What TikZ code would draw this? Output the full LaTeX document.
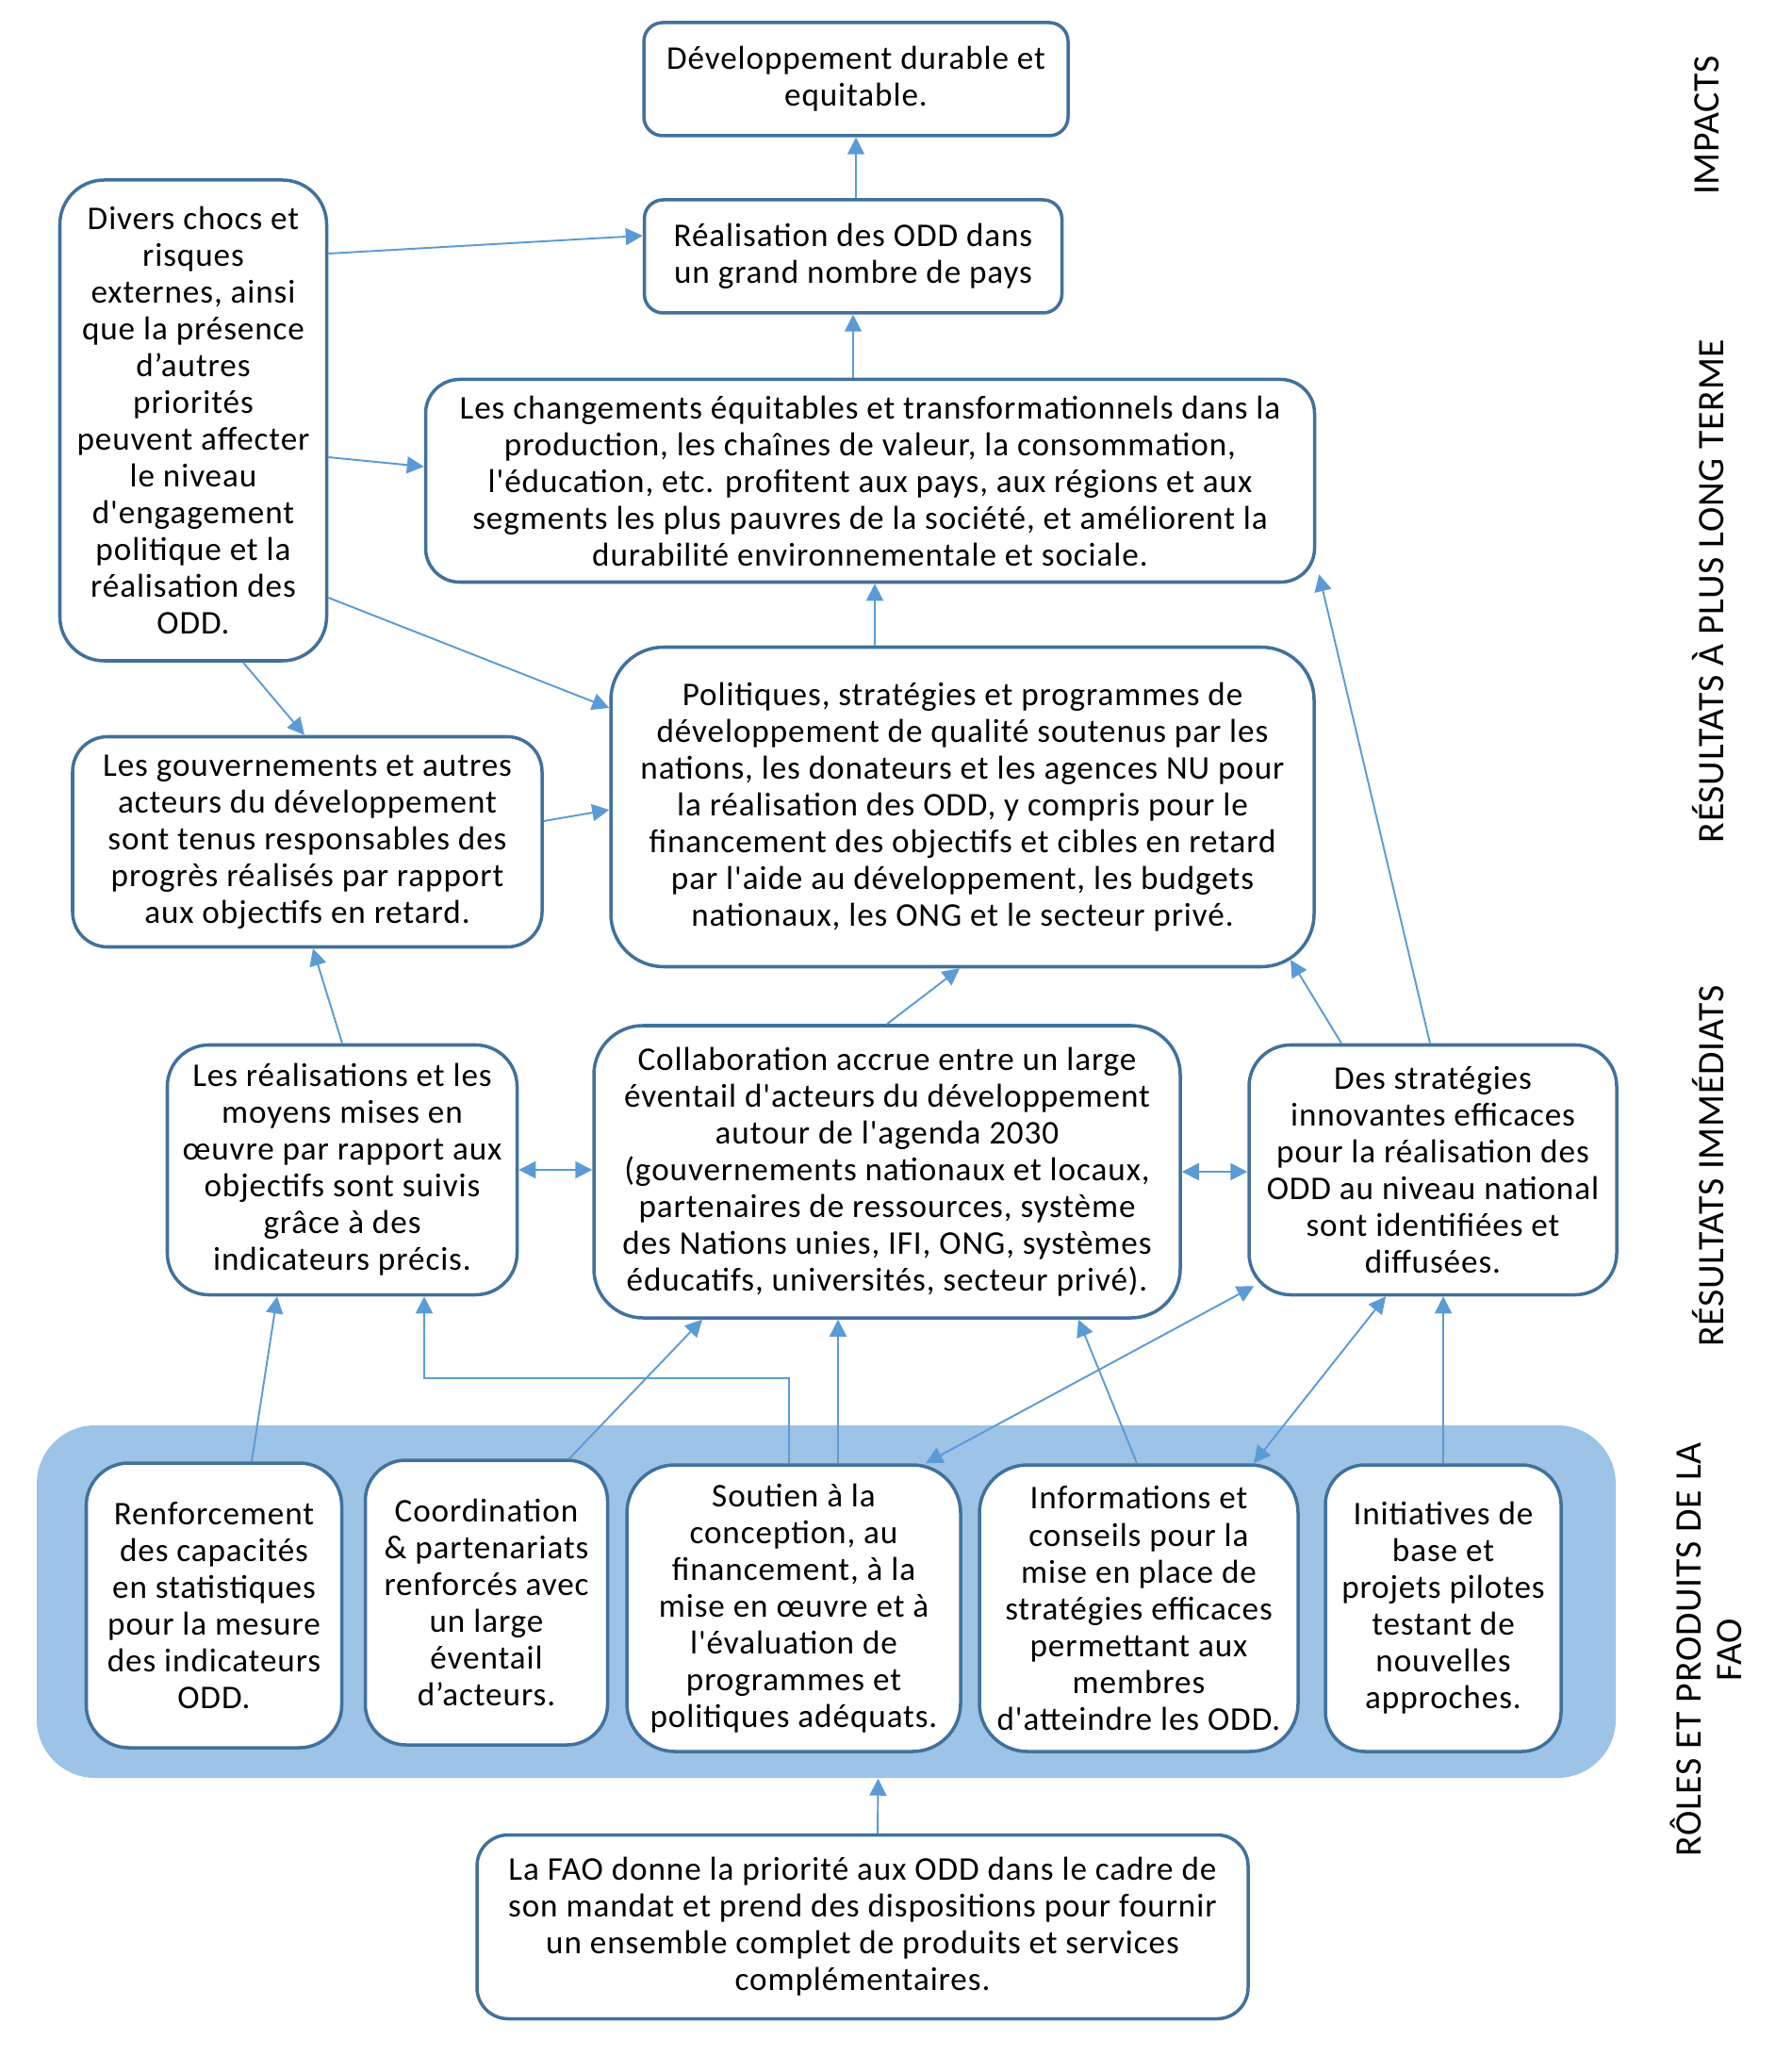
\documentclass[tikz,border=0pt]{standalone}
\usepackage{fontspec}
\setmainfont{Carlito}
\newfontfamily\bodyfont{Carlito}[LetterSpace=2.6]
\newfontfamily\layerfont{Carlito}[LetterSpace=2]
\usepackage{tikz}
\usetikzlibrary{arrows.meta, positioning, calc}
\definecolor{boxline}{HTML}{41719C}
\definecolor{linkblue}{HTML}{5B9BD5}
\definecolor{bandfill}{HTML}{9DC3E6}

\begin{document}
\begin{tikzpicture}[
    font=\bodyfont\fontsize{10}{11.1}\selectfont,
    box/.style={draw=boxline, fill=white, rounded corners=#1, line width=1pt, align=center, inner sep=0pt},
    box/.default=0.4cm,
    band/.style={fill=bandfill, rounded corners=0.62cm, inner sep=0pt},
    layer/.style={rotate=90, font=\layerfont\fontsize{11.3}{12.2}\selectfont, align=center},
    arrow/.style={-{Triangle[length=0.18cm, width=0.18cm]}, line width=0.55pt, draw=linkblue},
    twoway/.style={{Triangle[length=0.18cm, width=0.18cm]}-{Triangle[length=0.18cm, width=0.18cm]}, line width=0.55pt, draw=linkblue}
  ]
    \useasboundingbox (0,0) rectangle (19,-21.98);

    % FAO band
    \node[band, minimum width=16.75cm, minimum height=3.74cm] (band) at (8.765,-16.99) {};

    % Impacts
    \node[box=0.2cm, minimum width=4.50cm, minimum height=1.20cm] (dev) at (9.08,-0.84) {Développement durable et\\equitable.};
    \node[box=0.2cm, minimum width=4.43cm, minimum height=1.20cm] (real) at (9.05,-2.72) {Réalisation des ODD dans\\un grand nombre de pays};

    % Longer term results
    \node[box=0.36cm, minimum width=9.43cm, minimum height=2.15cm] (chg) at (9.23,-5.10) {Les changements équitables et transformationnels dans la\\production, les chaînes de valeur, la consommation,\\l'éducation, etc. profitent aux pays, aux régions et aux\\segments les plus pauvres de la société, et améliorent la\\durabilité environnementale et sociale.};
    \node[box=0.47cm, minimum width=2.83cm, minimum height=5.10cm] (divers) at (2.05,-4.46) {Divers chocs et\\risques\\externes, ainsi\\que la présence\\d’autres\\priorités\\peuvent affecter\\le niveau\\d'engagement\\politique et la\\réalisation des\\ODD.};
    \node[box=0.56cm, minimum width=7.46cm, minimum height=3.39cm] (pol) at (10.21,-8.56) {Politiques, stratégies et programmes de\\développement de qualité soutenus par les\\nations, les donateurs et les agences NU pour\\la réalisation des ODD, y compris pour le\\financement des objectifs et cibles en retard\\par l'aide au développement, les budgets\\nationaux, les ONG et le secteur privé.};
    \node[box=0.37cm, minimum width=4.98cm, minimum height=2.23cm] (gouv) at (3.26,-8.93) {Les gouvernements et autres\\acteurs du développement\\sont tenus responsables des\\progrès réalisés par rapport\\aux objectifs en retard.};

    % Immediate results
    \node[box=0.44cm, minimum width=3.71cm, minimum height=2.65cm] (realis) at (3.63,-12.41) {Les réalisations et les\\moyens mises en\\œuvre par rapport aux\\objectifs sont suivis\\grâce à des\\indicateurs précis.};
    \node[box=0.52cm, minimum width=6.22cm, minimum height=3.10cm] (collab) at (9.41,-12.43) {Collaboration accrue entre un large\\éventail d'acteurs du développement\\autour de l'agenda 2030\\(gouvernements nationaux et locaux,\\partenaires de ressources, système\\des Nations unies, IFI, ONG, systèmes\\éducatifs, universités, secteur privé).};
    \node[box=0.44cm, minimum width=3.90cm, minimum height=2.65cm] (strat) at (15.20,-12.41) {Des stratégies\\innovantes efficaces\\pour la réalisation des\\ODD au niveau national\\sont identifiées et\\diffusées.};

    % FAO roles and products
    \node[box=0.45cm, minimum width=2.71cm, minimum height=3.02cm] (renf) at (2.27,-17.03) {Renforcement\\des capacités\\en statistiques\\pour la mesure\\des indicateurs\\ODD.};
    \node[box=0.43cm, minimum width=2.57cm, minimum height=3.02cm] (coord) at (5.16,-17.00) {Coordination\\\& partenariats\\renforcés avec\\un large\\éventail\\d’acteurs.};
    \node[box=0.51cm, minimum width=3.54cm, minimum height=3.04cm] (sout) at (8.42,-17.06) {Soutien à la\\conception, au\\financement, à la\\mise en œuvre et à\\l'évaluation de\\programmes et\\politiques adéquats.};
    \node[box=0.51cm, minimum width=3.38cm, minimum height=3.04cm] (info) at (12.08,-17.06) {Informations et\\conseils pour la\\mise en place de\\stratégies efficaces\\permettant aux\\membres\\d'atteindre les ODD.};
    \node[box=0.42cm, minimum width=2.50cm, minimum height=3.04cm] (init) at (15.31,-17.06) {Initiatives de\\base et\\projets pilotes\\testant de\\nouvelles\\approches.};

    \node[box=0.33cm, minimum width=8.18cm, minimum height=1.95cm] (fao) at (9.15,-20.44) {La FAO donne la priorité aux ODD dans le cadre de\\son mandat et prend des dispositions pour fournir\\un ensemble complet de produits et services\\complémentaires.};

    % Layer labels
    \node[layer] (lab1) at (18.11,-1.33) {IMPACTS};
    \node[layer] (lab2) at (18.12,-6.27) {RÉSULTATS À PLUS LONG TERME};
    \node[layer] (lab3) at (18.12,-12.37) {RÉSULTATS IMMÉDIATS};
    \node[layer] (lab4) at (18.10,-17.50) {RÔLES ET PRODUITS DE LA\\FAO};

    % Links
    \draw[arrow] (real.north -| dev.south) -- (dev.south);
    \draw[arrow] (chg.north -| real.south) -- (real.south);
    \draw[arrow] ([yshift=1.77cm]divers.east) -- ([yshift=0.22cm]real.west);
    \draw[arrow] ([yshift=-0.39cm]divers.east) -- ([yshift=0.15cm]chg.west);
    \draw[arrow] ([yshift=-1.88cm]divers.east) -- ([yshift=1.05cm]pol.west);
    \draw[arrow] ([xshift=0.53cm]divers.south) -- ([xshift=-0.03cm]gouv.north);
    \draw[arrow] ([xshift=-0.93cm]pol.north) -- ([xshift=0.05cm]chg.south);
    \draw[arrow] ([yshift=0.22cm]gouv.east) -- ([yshift=-0.03cm]pol.west);
    \draw[arrow] (realis.north) -- ([xshift=0.06cm]gouv.south);
    \draw[arrow] (collab.north) -- ([xshift=-0.03cm]pol.south);
    \draw[arrow] ([xshift=-0.97cm]strat.north) -- ([xshift=3.48cm,yshift=0.09cm]pol.south);
    \draw[arrow] ([xshift=-0.03cm]strat.north) -- ([xshift=0.03cm,yshift=0.1cm]chg.south east);
    \draw[twoway] (realis.east) -- (realis.east -| collab.west);
    \draw[twoway] (collab.east) -- (collab.east -| strat.west);
    \draw[arrow] ([xshift=0.40cm]renf.north) -- ([xshift=-0.69cm]realis.south);
    \draw[arrow] ([xshift=-0.05cm]sout.north) |- ([xshift=0.87cm,yshift=-0.87cm]realis.south) -- ([xshift=0.87cm]realis.south);
    \draw[arrow] ([xshift=0.88cm]coord.north) -- ([xshift=-1.96cm]collab.south);
    \draw[arrow] ([xshift=0.47cm]sout.north) -- ([xshift=-0.52cm]collab.south);
    \draw[arrow] ([xshift=-0.02cm]info.north) -- ([xshift=2.03cm]collab.south);
    \draw[twoway] ([xshift=1.40cm]sout.north) -- ([xshift=0.07cm,yshift=0.11cm]strat.south west);
    \draw[twoway] ([xshift=1.22cm]info.north) -- ([xshift=-0.50cm]strat.south);
    \draw[arrow] (init.north) -- ([xshift=0.11cm]strat.south);
    \draw[arrow] ([xshift=0.16cm]fao.north) -- ([xshift=0.55cm]band.south);
\end{tikzpicture}
\end{document}
